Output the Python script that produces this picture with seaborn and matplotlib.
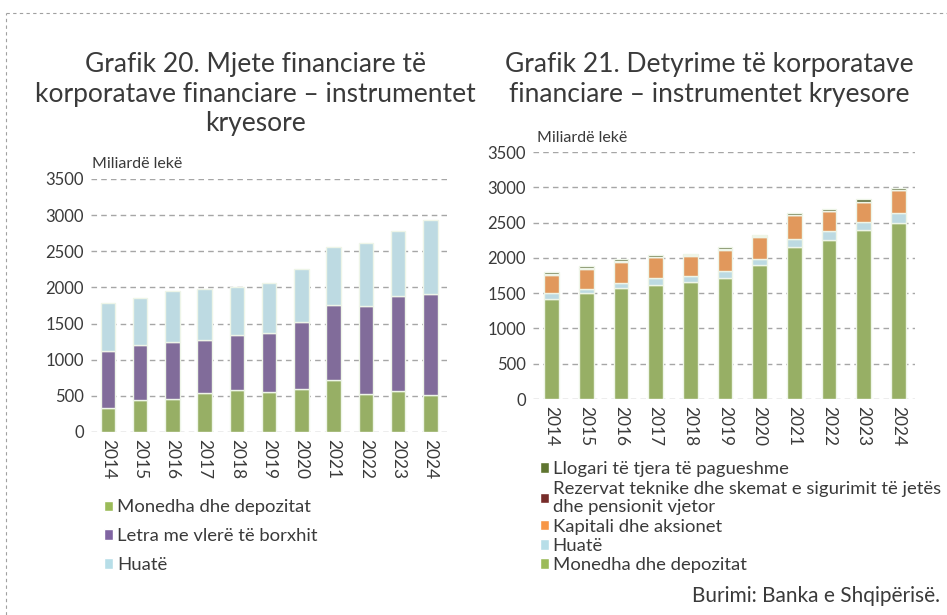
import numpy as np
import pandas as pd
import matplotlib
matplotlib.use('Agg')
import matplotlib.pyplot as plt
from matplotlib.patches import Patch
from matplotlib.lines import Line2D
import seaborn as sns

# Data (billion lek)
years = ['2014', '2015', '2016', '2017', '2018', '2019', '2020', '2021', '2022', '2023', '2024']

# Grafik 20 - assets
a_deposits = [330, 440, 458, 536, 578, 559, 601, 717, 532, 564, 518]
a_debt_sec = [793, 762, 790, 735, 758, 814, 920, 1040, 1215, 1318, 1391]
a_loans = [666, 656, 703, 708, 666, 694, 730, 804, 870, 896, 1018]

# Grafik 21 - liabilities
l_deposits = [1419, 1499, 1575, 1622, 1660, 1712, 1897, 2157, 2256, 2388, 2488]
l_loans = [85, 62, 76, 90, 85, 100, 94, 113, 123, 119, 147]
l_equity = [260, 284, 293, 294, 284, 298, 308, 336, 279, 284, 321]
l_reserves = [8, 10, 5, 12, 10, 10, 5, 3, 3, 2, 2]
l_other = [21, 23, 33, 21, 23, 32, 19, 30, 30, 40, 36]

GREEN = '#9BBB59'
PURPLE = '#8064A2'
LBLUE = '#B7DEE8'
ORANGE = '#F79646'
DRED = '#772C2A'
DGREEN = '#5F7530'
TXT = '#3A3A3A'

sns.set_theme(style='white')
plt.rcParams['font.family'] = ['Lato', 'DejaVu Sans']
plt.rcParams['font.weight'] = 'normal'

fig = plt.figure(figsize=(9.47, 6.15), dpi=100)
ax1 = fig.add_axes([0.0961, 0.2976, 0.376, 0.4114])
ax2 = fig.add_axes([0.5628, 0.3512, 0.4034, 0.4016])


def stack(ax, series, colors, width):
    bottom = np.zeros(len(years))
    for vals, col in zip(series, colors):
        sns.barplot(x=years, y=vals, bottom=bottom, color=col, width=width,
                    edgecolor='#EEF5E8', linewidth=1.0, ax=ax, zorder=3)
        bottom = bottom + np.array(vals)


stack(ax1, [a_deposits, a_debt_sec, a_loans], [GREEN, PURPLE, LBLUE], 0.45)
stack(ax2, [l_deposits, l_loans, l_equity, l_reserves, l_other],
      [GREEN, LBLUE, ORANGE, DRED, DGREEN], 0.42)

for ax, xl in [(ax1, (-0.52, 10.52)), (ax2, (-0.54, 10.48))]:
    ax.set_xlim(*xl)
    ax.set_ylim(0, 3500)
    ax.set_yticks(range(0, 3501, 500))
    ax.grid(axis='y', color='#A6A6A6', linestyle=(0, (4, 3)), linewidth=1.0, zorder=0)
    ax.grid(axis='x', visible=False)
    for s in ax.spines.values():
        s.set_visible(False)
    ax.tick_params(axis='both', length=0, labelsize=12, colors=TXT, pad=4)
    ax.tick_params(axis='x', labelrotation=270, pad=5, labelsize=12.5)
    ax.set_xlabel('')
    ax.set_ylabel('')

ax1.tick_params(axis='y', pad=5)
ax2.tick_params(axis='y', pad=5)

# titles
title_kw = dict(ha='center', va='top', fontsize=19, color='#3A3A3A',
                linespacing=1.22, fontweight='normal')
fig.text(0.27, 0.915, 'Grafik 20. Mjete financiare të\nkorporatave financiare – instrumentet\nkryesore',
         **title_kw)
fig.text(0.749, 0.915, 'Grafik 21. Detyrime të korporatave\nfinanciare – instrumentet kryesore',
         **title_kw)
fig.text(0.097, 0.722, 'Miliardë lekë', fontsize=11.5, color=TXT, ha='left', va='bottom')
fig.text(0.567, 0.765, 'Miliardë lekë', fontsize=11.5, color=TXT, ha='left', va='bottom')

# legends
h1 = [Patch(facecolor=GREEN, label='Monedha dhe depozitat'),
      Patch(facecolor=PURPLE, label='Letra me vlerë të borxhit'),
      Patch(facecolor=LBLUE, label='Huatë')]
fig.legend(handles=h1, loc='upper left', bbox_to_anchor=(0.102, 0.2), frameon=False,
           fontsize=13.3, handlelength=0.5, handleheight=0.5, handletextpad=0.2,
           labelspacing=0.7, labelcolor=TXT, borderaxespad=0)

h2 = [Patch(facecolor=DGREEN, label='Llogari të tjera të pagueshme'),
      Patch(facecolor=DRED, label='Rezervat teknike dhe skemat e sigurimit të jetës\ndhe pensionit vjetor'),
      Patch(facecolor=ORANGE, label='Kapitali dhe aksionet'),
      Patch(facecolor=LBLUE, label='Huatë'),
      Patch(facecolor=GREEN, label='Monedha dhe depozitat')]
fig.legend(handles=h2, loc='upper left', bbox_to_anchor=(0.562, 0.262), frameon=False,
           fontsize=13.3, handlelength=0.5, handleheight=0.5, handletextpad=0.2,
           labelspacing=0.18, labelcolor=TXT, borderaxespad=0)

fig.text(0.993, 0.031, 'Burimi: Banka e Shqipërisë.', ha='right', va='center', fontsize=15, color=TXT)

# dashed frame
fig.add_artist(Line2D([0.0065, 1.0], [0.979, 0.979], color='#A0A0A0', linestyle=(0, (3, 3)), linewidth=0.8))
fig.add_artist(Line2D([0.0065, 0.0065], [0.0, 0.979], color='#A0A0A0', linestyle=(0, (3, 3)), linewidth=0.8))

fig.savefig('out.png', dpi=100)
